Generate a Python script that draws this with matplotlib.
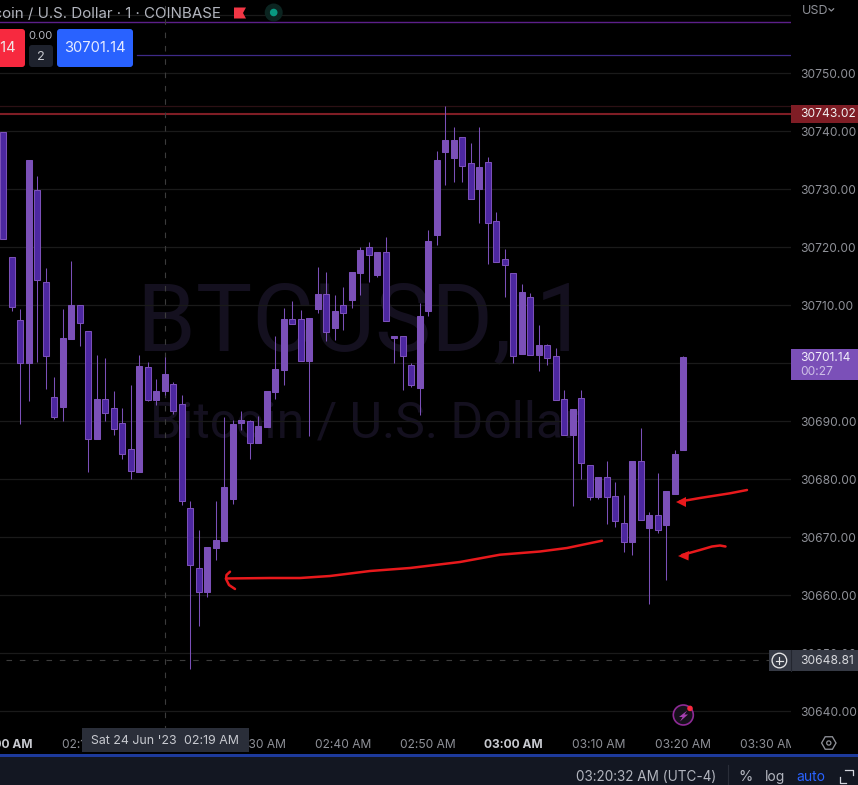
import numpy as np
import matplotlib
matplotlib.use("Agg")
import matplotlib.pyplot as plt
from matplotlib.patches import Rectangle, FancyBboxPatch, Circle, Polygon, RegularPolygon

plt.rcParams['font.family'] = ['Inter', 'DejaVu Sans']

# one minute candles from 02:00 AM
open_prices = [30739.9, 30718.3, 30707.5, 30700.0, 30729.9, 30714.0, 30694.2, 30692.5, 30704.2, 30710.1,
               30705.6, 30687.0, 30693.9, 30692.3, 30689.7, 30685.2, 30681.3, 30699.4, 30693.7, 30695.2,
               30696.4, 30693.0, 30675.0, 30664.7, 30660.6, 30668.2, 30669.4, 30676.6, 30689.7, 30690.0,
               30686.3, 30689.0, 30695.1, 30698.9, 30707.7, 30707.7, 30700.4, 30709.4, 30712.0, 30706.1,
               30710.1, 30710.9, 30715.6, 30720.1, 30715.2, 30719.2, 30704.4, 30704.7, 30699.7, 30695.8,
               30709.0, 30722.1, 30736.4, 30735.4, 30739.0, 30734.6, 30730.1, 30734.7, 30724.6, 30718.0,
               30715.6, 30701.6, 30711.4, 30701.4, 30703.2, 30701.3, 30693.9, 30687.7, 30694.0, 30682.5,
               30677.0, 30680.4, 30677.1, 30672.5, 30669.2, 30683.2, 30671.6, 30673.9, 30672.1, 30677.5,
               30685.1]
high_prices = [30739.9, 30718.3, 30709.4, 30735.1, 30732.3, 30716.5, 30697.7, 30709.4, 30717.7, 30710.1,
               30705.6, 30701.4, 30700.9, 30695.2, 30692.3, 30696.3, 30701.4, 30700.2, 30697.3, 30701.1,
               30696.8, 30694.6, 30676.3, 30671.3, 30668.3, 30676.3, 30690.8, 30690.2, 30691.8, 30690.2,
               30690.9, 30695.2, 30704.7, 30709.6, 30710.8, 30709.2, 30707.8, 30716.6, 30715.8, 30711.8,
               30713.2, 30715.8, 30720.1, 30720.9, 30719.2, 30721.8, 30704.7, 30704.7, 30700.1, 30710.4,
               30723.0, 30736.6, 30744.4, 30740.8, 30739.0, 30738.0, 30740.8, 30735.6, 30726.1, 30719.7,
               30715.6, 30713.7, 30712.1, 30706.6, 30703.3, 30702.7, 30695.4, 30692.1, 30695.4, 30682.5,
               30680.4, 30683.2, 30679.6, 30677.3, 30683.2, 30688.9, 30674.4, 30681.1, 30678.0, 30685.1,
               30701.3]
low_prices = [30721.4, 30709.1, 30689.6, 30693.6, 30700.3, 30695.6, 30690.4, 30690.1, 30704.2, 30703.0,
              30681.2, 30687.0, 30690.1, 30687.7, 30683.5, 30680.1, 30681.3, 30693.5, 30692.8, 30694.6,
              30691.3, 30675.6, 30647.4, 30654.7, 30659.7, 30666.1, 30669.4, 30675.8, 30688.5, 30683.5,
              30686.3, 30689.0, 30693.9, 30696.3, 30706.8, 30700.4, 30687.5, 30708.7, 30703.9, 30704.0,
              30705.8, 30709.6, 30711.8, 30714.0, 30714.9, 30707.3, 30700.1, 30695.4, 30695.9, 30691.1,
              30708.2, 30720.4, 30730.8, 30731.3, 30731.3, 30728.3, 30724.2, 30717.1, 30717.5, 30711.4,
              30700.1, 30701.6, 30701.4, 30698.7, 30699.7, 30693.7, 30687.7, 30675.4, 30680.1, 30676.4,
              30676.6, 30672.3, 30671.8, 30667.5, 30667.0, 30673.0, 30658.5, 30670.8, 30662.7, 30677.5,
              30685.1]
close_prices = [30721.4, 30709.8, 30700.0, 30735.1, 30714.3, 30701.2, 30690.8, 30704.4, 30710.1, 30707.0,
                30687.0, 30693.9, 30691.5, 30688.7, 30684.3, 30681.5, 30699.6, 30693.7, 30695.2, 30698.2,
                30691.8, 30676.2, 30665.3, 30660.6, 30668.3, 30669.6, 30678.7, 30689.6, 30690.2, 30686.3,
                30689.2, 30695.2, 30699.0, 30707.7, 30706.8, 30700.4, 30707.8, 30712.0, 30705.4, 30709.0,
                30708.7, 30715.8, 30719.6, 30718.7, 30719.2, 30707.3, 30704.7, 30701.3, 30696.3, 30708.2,
                30721.1, 30735.1, 30738.5, 30738.5, 30734.0, 30728.3, 30733.9, 30724.2, 30717.5, 30717.0,
                30701.3, 30712.3, 30701.4, 30703.2, 30700.9, 30693.7, 30687.7, 30692.1, 30682.8, 30677.0,
                30680.4, 30677.0, 30672.8, 30669.2, 30683.2, 30673.0, 30673.9, 30671.3, 30678.0, 30684.4,
                30701.14]

price_ticks = [30640, 30650, 30660, 30670, 30680, 30690, 30700, 30710, 30720, 30730, 30740, 30750, 30760]
time_ticks = [0, 10, 20, 30, 40, 50, 60, 70, 80, 90]
time_labels = ["02:00 AM", "02:10 AM", "02:20 AM", "02:30 AM", "02:40 AM",
               "02:50 AM", "03:00 AM", "03:10 AM", "03:20 AM", "03:30 AM"]
bold_times = ["02:00 AM", "03:00 AM"]

last_price = 30701.14
red_level = 30743.02
red_faint_level = 30744.3
purple_level = 30758.8
indigo_level = 30753.2
cross_price = 30648.81
cross_bar = 19

# hand drawn red strokes, in screen pixels
long_stroke_x = [226, 270, 300, 330, 370, 410, 460, 500, 540, 567, 602]
long_stroke_y = [578.5, 578, 578, 576, 571, 568, 562, 554.7, 551.5, 548, 540.7]
hook_x = [235, 229, 226, 226.5, 230]
hook_y = [589, 585, 579, 575, 571.7]
arrow1_x = [680, 700, 730, 747]
arrow1_y = [501.5, 498, 493.3, 490]
arrow2_x = [682, 700, 712, 720, 725.5]
arrow2_y = [555, 550, 546.5, 545.5, 546.5]

W, H = 858, 785
CHART_R, CHART_B = 791, 731
BG = "#000000"
LIGHT = "#7b50b8"
DARK = "#4c27a0"
GRID = "#1a1a1a"
AXIS_TXT = "#8f9198"
TAG_GREY = "#363a45"
TICK_SIZE = 8.65

opens = np.array(open_prices)
closes = np.array(close_prices)
bars = np.arange(len(opens))
up = closes >= opens

fig = plt.figure(figsize=(W / 100, H / 100), dpi=100, facecolor=BG)
ax = fig.add_axes([0, 1 - CHART_B / H, CHART_R / W, CHART_B / H], facecolor=BG)
ui = fig.add_axes([0, 0, 1, 1], zorder=5)
ui.set_xlim(0, W)
ui.set_ylim(H, 0)
ui.axis("off")

# 8.5 px per bar, bar 0 sits at x = 3.3 px; 5.8 px per dollar
ax.set_xlim((0 - 3.3) / 8.5, (CHART_R - 3.3) / 8.5)
ax.set_ylim(30762.66 - CHART_B / 5.8, 30762.66)
for s in ax.spines.values():
    s.set_visible(False)

ax.yaxis.tick_right()
ax.set_yticks(price_ticks)
ax.set_yticklabels(["" if p == 30760 else f"{p:.2f}" for p in price_ticks],
                   fontsize=TICK_SIZE, color=AXIS_TXT)
ax.set_xticks(time_ticks)
ax.set_xticklabels(time_labels, fontsize=TICK_SIZE, color=AXIS_TXT)
for lab in ax.get_xticklabels():
    if lab.get_text() in bold_times:
        lab.set_fontweight("bold")
        lab.set_color("#c8cad0")
ax.tick_params(axis="y", length=0, pad=6.5)
ax.tick_params(axis="x", length=0, pad=5.5)
ax.set_axisbelow(True)
ax.grid(axis="y", color=GRID, lw=0.9)
ax.grid(axis="x", visible=False)

# watermark
ax.text(363, 350, "BTCUSD, 1", transform=ui.transData, fontsize=68, family="Roboto",
        color="#14101f", ha="center", va="baseline", zorder=0.4)
ax.text(365, 437, "Bitcoin / U.S. Dollar", transform=ui.transData, fontsize=36, family="Roboto",
        color="#14101f", ha="center", va="baseline", zorder=0.4)

# level lines
ax.axhline(purple_level, color="#5c1f8a", lw=1)
ax.axhline(indigo_level, xmin=137 / CHART_R, color="#3f2a88", lw=0.9)
ax.axhline(red_faint_level, color="#2c1014", lw=0.9)
ax.axhline(red_level, color="#7f1d25", lw=1.5)

# crosshair
ax.axvline(cross_bar, color="#3c3c3c", lw=0.8, dashes=(5, 7))
ax.axhline(cross_price, color="#3c3c3c", lw=0.8, dashes=(5, 7), xmin=6 / CHART_R)

# candles
ax.vlines(bars, low_prices, high_prices, colors=LIGHT, linewidth=0.75, zorder=3)
ax.bar(bars[up], np.abs(closes - opens)[up], bottom=opens[up], width=0.7,
       color=LIGHT, edgecolor=LIGHT, linewidth=0.75, zorder=4)
ax.bar(bars[~up], np.abs(closes - opens)[~up], bottom=closes[~up], width=0.7,
       color=DARK, edgecolor=LIGHT, linewidth=0.75, zorder=4)


def box(x0, y0, x1, y1, color, r=0):
    if r:
        ui.add_patch(FancyBboxPatch((x0 + r, y0 + r), x1 - x0 - 2 * r, y1 - y0 - 2 * r,
                                    boxstyle=f"round,pad={r},rounding_size={r}",
                                    fc=color, ec="none"))
    else:
        ui.add_patch(Rectangle((x0, y0), x1 - x0, y1 - y0, fc=color, ec="none"))


def label(x, y, s, color=AXIS_TXT, size=TICK_SIZE, ha="left", **kw):
    ui.text(x, y, s, color=color, fontsize=size, ha=ha, va="center", **kw)


def price_y(p):
    # screen row of a price, through the chart axes
    row = ax.transData.transform((0, p))[1]
    return H - row


# title row
label(221, 13.5, "Bitcoin / U.S. Dollar · 1 · COINBASE", color="#b2b5be", size=10.9, ha="right")
ui.add_patch(Polygon([(234, 7.5), (246, 7.5), (243, 13), (246, 18.5), (234, 18.5)], fc="#f23645", ec="none"))
ui.add_patch(Circle((273.7, 12.5), 9, fc="#0b2420", ec="none"))
ui.add_patch(Circle((273.7, 12.5), 3.8, fc="#089981", ec="none"))

# order buttons
box(-10, 29, 25, 67, "#f7293f", r=3)
label(16, 48.5, "30701.14", color="#f0e6e8", size=10.6, ha="right")
label(40.7, 36, "0.00", color="#b2b5be", size=8, ha="center")
box(29, 45, 53, 67, "#1e222d", r=3)
label(41, 56.5, "2", color="#c8cad0", size=9.2, ha="center")
box(57, 29, 133, 67, "#2962ff", r=3)
label(95, 48.5, "30701.14", color="#e4eaff", size=10.6, ha="center")

# price axis extras
box(CHART_R, CHART_B, W, 754, BG)
label(802, 10.5, "USD", color=AXIS_TXT, size=9)
ui.plot([829, 831.3, 833.6], [8.8, 11, 8.8], color=AXIS_TXT, lw=0.9)

y_red = price_y(red_level)
box(CHART_R, y_red - 8.7, W, y_red + 8.7, "#7f1d25")
label(800, y_red + 0.3, f"{red_level:.2f}", color="#f2f2f2")

y_last = price_y(last_price)
box(CHART_R, y_last - 8, W, y_last + 23, LIGHT)
label(800, y_last + 0.8, f"{last_price:.2f}", color="#f2eefa")
label(800, y_last + 15, "00:27", color="#cdbfe6")

y_cross = price_y(cross_price)
box(769, y_cross - 10.3, W, y_cross + 10.7, TAG_GREY)
ui.plot([791, 791], [y_cross - 10.3, y_cross + 10.7], color="#23262f", lw=0.8)
ui.add_patch(Circle((779.4, y_cross + 0.2), 7.3, fc="none", ec="#e6e6e6", lw=0.95))
ui.plot([775.8, 783], [y_cross + 0.2] * 2, color="#e6e6e6", lw=0.85)
ui.plot([779.4, 779.4], [y_cross - 3.4, y_cross + 3.8], color="#e6e6e6", lw=0.85)
label(800, y_cross + 0.3, f"{cross_price:.2f}", color="#d8d9dd")

# alert icon
ui.add_patch(Circle((683.3, 715), 10, fc="#15101a", ec="#8e2a96", lw=1.2))
ui.add_patch(Polygon([(687.3, 710.5), (679, 717), (682.6, 717), (680, 721.5),
                      (688, 714.5), (684.4, 714.5)], fc="#a640b0", ec="none"))
ui.add_patch(Circle((690, 708.4), 2.8, fc="#f7293f", ec="none"))

# time tooltip
box(82, 728, 249, 752, "#2a2e39")
label(90.7, 741, "Sat 24 Jun '23", color="#c8cad0", size=8.9)
label(184, 741, "02:19 AM", color="#c8cad0", size=8.9)

# settings icon
ui.add_patch(RegularPolygon((828.8, 743), 6, radius=7.2, orientation=np.pi / 6, fc="none", ec=AXIS_TXT, lw=0.95))
ui.add_patch(Circle((828.8, 743), 2.1, fc="none", ec=AXIS_TXT, lw=0.9))

# bottom bar
box(0, 754, W, 756.5, "#1d3a9c")
box(0, 756.5, W, H, "#131722")
label(716.7, 777, "03:20:32 AM (UTC-4)", color="#b2b5be", size=9.75, ha="right")
ui.plot([728.3, 728.3], [765, H], color="#2a2e39", lw=0.8)
label(746, 777, "%", color="#b2b5be", size=10.5, ha="center")
label(775, 777, "log", color="#b2b5be", size=10, ha="center")
label(811, 777, "auto", color="#2962ff", size=10, ha="center")
ui.plot([845, 853, 853], [769.5, 769.5, 775], color="#d1d4dc", lw=0.9)
ui.plot([839.5, 839.5, 846], [777, 783, 783], color="#d1d4dc", lw=0.9)

# red pen strokes
pen = "#e8191c"
ui.plot(long_stroke_x, long_stroke_y, color=pen, lw=1.8, solid_capstyle="round")
ui.plot(hook_x, hook_y, color=pen, lw=1.8, solid_capstyle="round")
ui.plot(arrow1_x, arrow1_y, color=pen, lw=1.8, solid_capstyle="round")
ui.plot(arrow2_x, arrow2_y, color=pen, lw=1.8, solid_capstyle="round")
ui.add_patch(Polygon([(676, 502), (686, 497), (686, 507)], fc=pen, ec="none"))
ui.add_patch(Polygon([(678, 556), (689, 551), (688.5, 560.5)], fc=pen, ec="none"))

fig.savefig("out.png", dpi=100, facecolor=BG)
